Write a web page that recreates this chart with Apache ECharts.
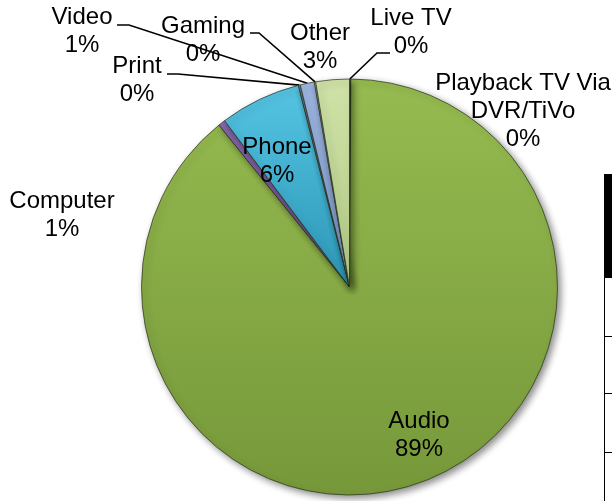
<!DOCTYPE html>
<html>
<head>
<meta charset="utf-8">
<script src="https://cdn.jsdelivr.net/npm/echarts@6/dist/echarts.min.js"></script>
<style>
  html, body { margin: 0; padding: 0; background: #fff; }
  #chart { width: 612px; height: 501px; }
</style>
</head>
<body>
<div id="chart"></div>
<script>
// Share of listening by device, in percent (slices run clockwise from 12 o'clock)
const categories = ['Live TV', 'Playback TV Via\nDVR/TiVo', 'Audio', 'Computer', 'Phone', 'Print', 'Video', 'Gaming', 'Other'];
const shares = [0.05, 0.05, 89.1, 0.55, 6.3, 0.15, 1.1, 0.1, 2.6];

// Fill gradients (top, bottom) per category
const sliceColors = {
  'Live TV': ['#7d8d5a', '#63733f'],
  'Playback TV Via\nDVR/TiVo': ['#7d8d5a', '#63733f'],
  'Audio': ['#96bb50', '#76983a'],
  'Computer': ['#8a68b0', '#6e4f93'],
  'Phone': ['#55c4e3', '#2c96b5'],
  'Print': ['#6f84ad', '#586b92'],
  'Video': ['#9db6e1', '#7c96c7'],
  'Gaming': ['#c8d4ea', '#a9b8d6'],
  'Other': ['#cfe2a8', '#b2cb84']
};

// Where each data label sits, and the elbow/end of its leader line if it has one
const labelSpots = {
  'Live TV': { x: 411, y: 32, leader: [[377, 53], [390, 53]] },
  'Playback TV Via\nDVR/TiVo': { x: 523, y: 111 },
  'Audio': { x: 419, y: 435 },
  'Computer': { x: 62, y: 215 },
  'Phone': { x: 277, y: 161 },
  'Print': { x: 137, y: 80, leader: [[178, 74], [167, 74]] },
  'Video': { x: 82, y: 31, leader: [[129, 25], [117, 25]] },
  'Gaming': { x: 203, y: 40, leader: [[259, 33], [250, 33]] },
  'Other': { x: 320, y: 47 }
};

const pieData = categories.map(function (name, i) {
  const c = sliceColors[name];
  return {
    name: name,
    value: shares[i],
    itemStyle: {
      color: new echarts.graphic.LinearGradient(0, 0, 0, 1, [
        { offset: 0, color: c[0] },
        { offset: 1, color: c[1] }
      ])
    },
    labelLine: { show: !!labelSpots[name].leader }
  };
});

const chart = echarts.init(document.getElementById('chart'), null, { renderer: 'canvas' });
chart.setOption({
  animation: false,
  backgroundColor: '#ffffff',
  series: [{
    type: 'pie',
    center: [349.5, 287],
    radius: 208,
    startAngle: 90,
    clockwise: true,
    avoidLabelOverlap: false,
    percentPrecision: 0,
    data: pieData,
    itemStyle: {
      borderColor: 'rgba(40,50,25,0.7)',
      borderWidth: 1,
      shadowBlur: 7,
      shadowColor: 'rgba(0,0,0,0.45)',
      shadowOffsetX: 3,
      shadowOffsetY: 3
    },
    label: {
      show: true,
      position: 'outside',
      formatter: '{b}\n{d}%',
      color: '#000',
      fontFamily: 'Liberation Sans, Arial, sans-serif',
      fontSize: 24,
      lineHeight: 28,
      align: 'center'
    },
    labelLine: {
      show: true,
      length: 10,
      length2: 10,
      smooth: false,
      lineStyle: { color: '#000', width: 1.6 }
    },
    emphasis: { disabled: true },
    labelLayout: function (params) {
      const name = categories[params.dataIndex];
      const spot = labelSpots[name];
      const out = { x: spot.x, y: spot.y, align: 'center', verticalAlign: 'middle' };
      if (spot.leader && params.labelLinePoints) {
        out.labelLinePoints = [params.labelLinePoints[0], spot.leader[0], spot.leader[1]];
      }
      return out;
    }
  }],
  graphic: [
    // edge of the neighbouring table
    { type: 'rect', shape: { x: 604, y: 174, width: 8, height: 104 }, style: { fill: '#000' }, silent: true },
    { type: 'line', shape: { x1: 604.5, y1: 174, x2: 604.5, y2: 501 }, style: { stroke: '#000', lineWidth: 1 }, silent: true },
    { type: 'line', shape: { x1: 604, y1: 336.5, x2: 612, y2: 336.5 }, style: { stroke: '#000', lineWidth: 1 }, silent: true },
    { type: 'line', shape: { x1: 604, y1: 393.5, x2: 612, y2: 393.5 }, style: { stroke: '#000', lineWidth: 1 }, silent: true },
    { type: 'line', shape: { x1: 604, y1: 452.5, x2: 612, y2: 452.5 }, style: { stroke: '#000', lineWidth: 1 }, silent: true }
  ]
});
</script>
</body>
</html>
